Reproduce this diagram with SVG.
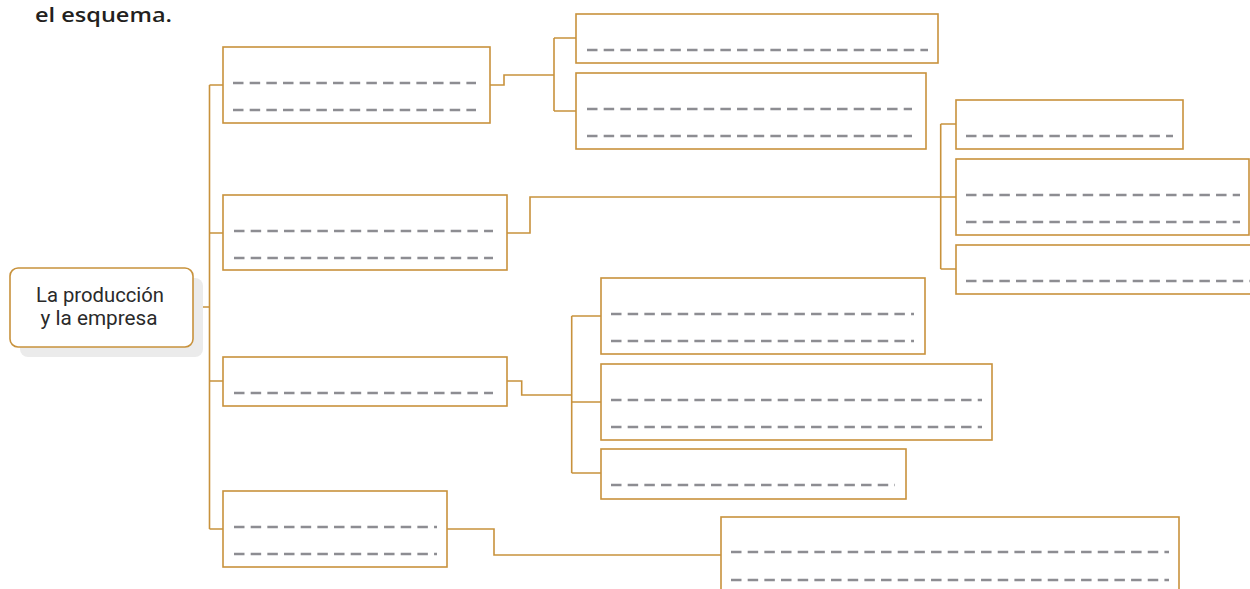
<svg xmlns="http://www.w3.org/2000/svg" width="1250" height="589" viewBox="0 0 1250 589">
<style>
.box{fill:#fff;stroke:#c8923c;stroke-width:1.6}
.con{fill:none;stroke:#c8923c;stroke-width:1.6}
.dl{stroke:#8d8d92;stroke-width:2.3;stroke-dasharray:10.5 6.17}
.title{font-family:"Open Sans",Lato,sans-serif;font-weight:600;font-size:20px;fill:#231f20}
.root{font-family:Roboto,"Liberation Sans",sans-serif;font-size:20px;fill:#2a2a2a;text-anchor:middle}
</style>
<rect width="1250" height="589" fill="#fff"/>
<text class="title" x="35" y="22" textLength="137" lengthAdjust="spacingAndGlyphs">el esquema.</text>

<g id="connectors">
<path class="con" d="M193 307H209.5M209.5 85V529M209.5 85H223M209.5 233H223M209.5 381H223M209.5 529H223"/>
<path class="con" d="M490 85H504V75H554M554 38V111M554 38H576M554 111H576"/>
<path class="con" d="M507 233H530V197H956M940.7 124V269M940.7 124H956M940.7 269H956"/>
<path class="con" d="M507 381H521.7V395H571.7M571.7 316V473M571.7 316H601M571.7 402H601M571.7 473H601"/>
<path class="con" d="M447 529H494V555H721"/>
</g>

<g id="root">
<rect x="20" y="278" width="183" height="79" rx="8" fill="#ebebeb"/>
<rect class="box" x="10" y="268" width="183" height="79" rx="8"/>
<text class="root" x="100" y="302" textLength="128" lengthAdjust="spacingAndGlyphs">La producción</text>
<text class="root" x="99" y="325" textLength="117" lengthAdjust="spacingAndGlyphs">y la empresa</text>
</g>

<g id="box1">
<rect class="box" x="223" y="47" width="267" height="76"/>
<line class="dl" x1="233" y1="83" x2="476" y2="83"/>
<line class="dl" x1="233" y1="110" x2="476" y2="110"/>
</g>
<g id="box2">
<rect class="box" x="223" y="195" width="284" height="75"/>
<line class="dl" x1="234" y1="231" x2="493" y2="231"/>
<line class="dl" x1="234" y1="258" x2="493" y2="258"/>
</g>
<g id="box3">
<rect class="box" x="223" y="357" width="284" height="49"/>
<line class="dl" x1="234" y1="393" x2="493" y2="393"/>
</g>
<g id="box4">
<rect class="box" x="223" y="491" width="224" height="76"/>
<line class="dl" x1="234" y1="527" x2="437" y2="527"/>
<line class="dl" x1="234" y1="554" x2="437" y2="554"/>
</g>

<g id="a1">
<rect class="box" x="576" y="14" width="362" height="49"/>
<line class="dl" x1="587" y1="50" x2="928" y2="50"/>
</g>
<g id="a2">
<rect class="box" x="576" y="73" width="350" height="76"/>
<line class="dl" x1="587" y1="109" x2="912" y2="109"/>
<line class="dl" x1="587" y1="136" x2="912" y2="136"/>
</g>

<g id="b1">
<rect class="box" x="956" y="100" width="227" height="49"/>
<line class="dl" x1="966" y1="136" x2="1173" y2="136"/>
</g>
<g id="b2">
<rect class="box" x="956" y="159" width="293" height="76"/>
<line class="dl" x1="966" y1="195" x2="1240" y2="195"/>
<line class="dl" x1="966" y1="222" x2="1240" y2="222"/>
</g>
<g id="b3">
<rect class="box" x="956" y="245" width="320" height="49"/>
<line class="dl" x1="966" y1="281" x2="1260" y2="281"/>
</g>

<g id="c1">
<rect class="box" x="601" y="278" width="324" height="76"/>
<line class="dl" x1="611" y1="314" x2="914" y2="314"/>
<line class="dl" x1="611" y1="341" x2="914" y2="341"/>
</g>
<g id="c2">
<rect class="box" x="601" y="364" width="391" height="76"/>
<line class="dl" x1="611" y1="400" x2="982" y2="400"/>
<line class="dl" x1="611" y1="427" x2="982" y2="427"/>
</g>
<g id="c3">
<rect class="box" x="601" y="449" width="305" height="50"/>
<line class="dl" x1="611" y1="485" x2="895" y2="485"/>
</g>

<g id="d1">
<rect class="box" x="721" y="517" width="458" height="90"/>
<line class="dl" x1="731" y1="552" x2="1169" y2="552"/>
<line class="dl" x1="731" y1="580" x2="1169" y2="580"/>
</g>
</svg>
